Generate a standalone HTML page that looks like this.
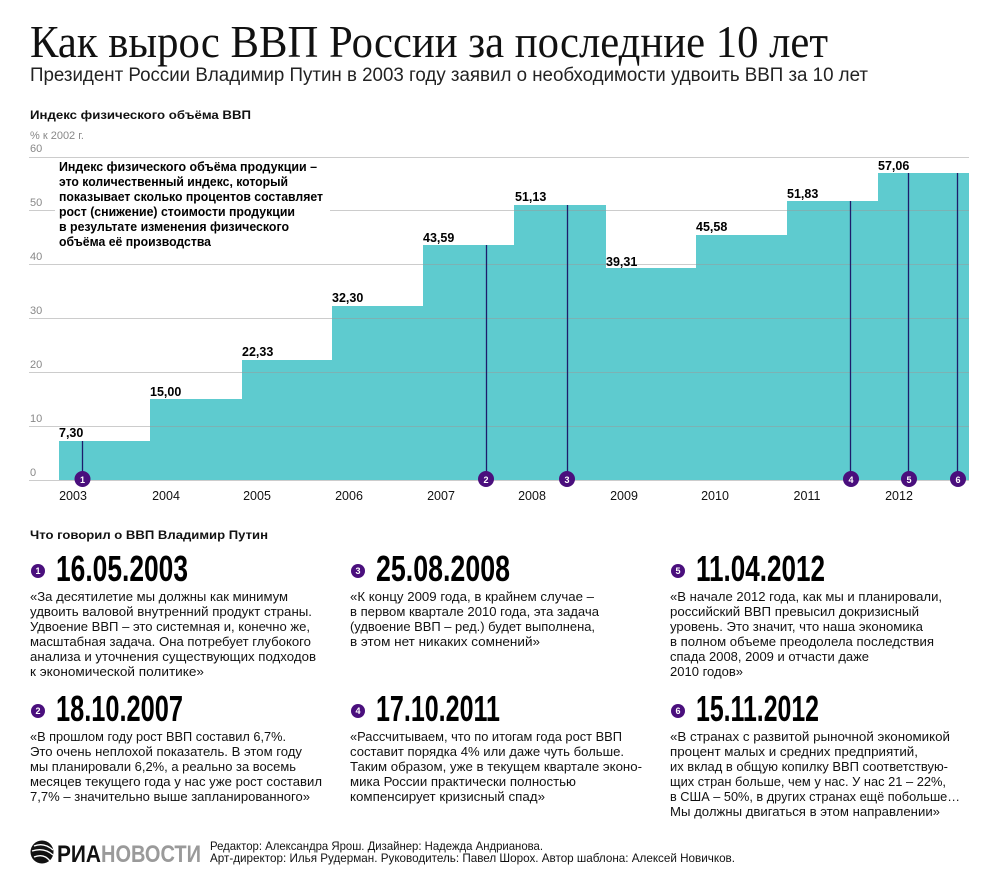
<!DOCTYPE html>
<html><head><meta charset="utf-8"><style>
html,body{margin:0;padding:0;background:#fff}
svg{display:block}
text{font-family:"Liberation Sans","DejaVu Sans",sans-serif}
.b{font-size:13px;fill:#111}
.d{font-family:"Liberation Sans Narrow","Liberation Sans",sans-serif;font-weight:bold;font-size:36px;fill:#000}
.n{font-weight:bold;font-size:12.5px;fill:#000}
.ax{font-size:11px;fill:#888}
.yr{font-size:12.5px;fill:#111;text-anchor:middle}
.cn{font-size:9px;font-weight:bold;fill:#fff;text-anchor:middle}
</style></head><body>
<svg width="998" height="890" viewBox="0 0 998 890" xmlns="http://www.w3.org/2000/svg">
<text x="30" y="57" style="font-family:'Liberation Serif',serif" font-size="46" fill="#111" textLength="798" lengthAdjust="spacingAndGlyphs">Как вырос ВВП России за последние 10 лет</text>
<text x="30" y="81" font-size="19" fill="#222" textLength="838" lengthAdjust="spacingAndGlyphs">Президент России Владимир Путин в 2003 году заявил о необходимости удвоить ВВП за 10 лет</text>
<text x="30" y="119" font-size="12" font-weight="bold" fill="#111" textLength="221" lengthAdjust="spacingAndGlyphs">Индекс физического объёма ВВП</text>
<text x="30" y="139" class="ax">% к 2002 г.</text>
<g class="ax">
<text x="30" y="152">60</text><text x="30" y="206">50</text><text x="30" y="260">40</text><text x="30" y="314">30</text><text x="30" y="368">20</text><text x="30" y="422">10</text><text x="30" y="476">0</text>
</g>
<g fill="#5ecbcf">
<rect x="59" y="441" width="92" height="39"/>
<rect x="150" y="399" width="93" height="81"/>
<rect x="242" y="360" width="91" height="120"/>
<rect x="332" y="306" width="92" height="174"/>
<rect x="423" y="245" width="92" height="235"/>
<rect x="514" y="205" width="92" height="275"/>
<rect x="605" y="268" width="92" height="212"/>
<rect x="696" y="235" width="92" height="245"/>
<rect x="787" y="201" width="92" height="279"/>
<rect x="878" y="173" width="91" height="307"/>
</g>
<g stroke="#999" stroke-opacity="0.5" stroke-width="1">
<line x1="29" x2="969" y1="157.5" y2="157.5"/>
<line x1="29" x2="55" y1="210.5" y2="210.5"/><line x1="330" x2="969" y1="210.5" y2="210.5"/>
<line x1="29" x2="969" y1="264.5" y2="264.5"/>
<line x1="29" x2="969" y1="318.5" y2="318.5"/>
<line x1="29" x2="969" y1="372.5" y2="372.5"/>
<line x1="29" x2="969" y1="426.5" y2="426.5"/>
<line x1="29" x2="969" y1="480.5" y2="480.5"/>
</g>
<g class="n" font-size="12" font-weight="bold">
<text x="59" y="171" textLength="258" lengthAdjust="spacingAndGlyphs">Индекс физического объёма продукции –</text>
<text x="59" y="186" textLength="229" lengthAdjust="spacingAndGlyphs">это количественный индекс, который</text>
<text x="59" y="201" textLength="264" lengthAdjust="spacingAndGlyphs">показывает сколько процентов составляет</text>
<text x="59" y="216" textLength="236" lengthAdjust="spacingAndGlyphs">рост (снижение) стоимости продукции</text>
<text x="59" y="231" textLength="230" lengthAdjust="spacingAndGlyphs">в результате изменения физического</text>
<text x="59" y="246" textLength="152" lengthAdjust="spacingAndGlyphs">объёма её производства</text>
</g>
<g class="n">
<text x="59" y="437">7,30</text><text x="150" y="396">15,00</text><text x="242" y="356">22,33</text><text x="332" y="302">32,30</text><text x="423" y="242">43,59</text><text x="515" y="201">51,13</text><text x="606" y="266">39,31</text><text x="696" y="231">45,58</text><text x="787" y="198">51,83</text><text x="878" y="170">57,06</text>
</g>
<g stroke="#1d1d6b" stroke-width="1.3">
<line x1="82.5" x2="82.5" y1="441" y2="480"/>
<line x1="486.5" x2="486.5" y1="245" y2="480"/>
<line x1="567.5" x2="567.5" y1="205" y2="480"/>
<line x1="850.5" x2="850.5" y1="201" y2="480"/>
<line x1="908.5" x2="908.5" y1="173" y2="480"/>
<line x1="957.5" x2="957.5" y1="173" y2="480"/>
</g>
<g fill="#4a0f7d">
<circle cx="82.5" cy="479" r="8"/><circle cx="486" cy="479" r="8"/><circle cx="567" cy="479" r="8"/><circle cx="851" cy="479" r="8"/><circle cx="909" cy="479" r="8"/><circle cx="958" cy="479" r="8"/>
</g>
<g class="cn"><text x="82.5" y="483">1</text><text x="486" y="483">2</text><text x="567" y="483">3</text><text x="851" y="483">4</text><text x="909" y="483">5</text><text x="958" y="483">6</text></g>
<g class="yr">
<text x="73" y="500">2003</text><text x="166" y="500">2004</text><text x="257" y="500">2005</text><text x="349" y="500">2006</text><text x="441" y="500">2007</text><text x="532" y="500">2008</text><text x="624" y="500">2009</text><text x="715" y="500">2010</text><text x="807" y="500">2011</text><text x="899" y="500">2012</text>
</g>
<text x="30" y="539" font-size="12" font-weight="bold" fill="#111" textLength="238" lengthAdjust="spacingAndGlyphs">Что говорил о ВВП Владимир Путин</text>
<g fill="#4a0f7d">
<circle cx="38" cy="571" r="7"/><circle cx="38" cy="711" r="7"/><circle cx="358" cy="571" r="7"/><circle cx="358" cy="711" r="7"/><circle cx="678" cy="571" r="7"/><circle cx="678" cy="711" r="7"/>
</g>
<g class="cn" font-size="8"><text x="38" y="574">1</text><text x="38" y="714">2</text><text x="358" y="574">3</text><text x="358" y="714">4</text><text x="678" y="574">5</text><text x="678" y="714">6</text></g>
<g class="d">
<text x="56" y="581" textLength="132" lengthAdjust="spacingAndGlyphs">16.05.2003</text>
<text x="56" y="721" textLength="127" lengthAdjust="spacingAndGlyphs">18.10.2007</text>
<text x="376" y="581" textLength="134" lengthAdjust="spacingAndGlyphs">25.08.2008</text>
<text x="376" y="721" textLength="124" lengthAdjust="spacingAndGlyphs">17.10.2011</text>
<text x="696" y="581" textLength="129" lengthAdjust="spacingAndGlyphs">11.04.2012</text>
<text x="696" y="721" textLength="123" lengthAdjust="spacingAndGlyphs">15.11.2012</text>
</g>
<g class="b">
<text x="30" y="601" textLength="258" lengthAdjust="spacingAndGlyphs">«За десятилетие мы должны как минимум</text>
<text x="30" y="616" textLength="282" lengthAdjust="spacingAndGlyphs">удвоить валовой внутренний продукт страны.</text>
<text x="30" y="631" textLength="280" lengthAdjust="spacingAndGlyphs">Удвоение ВВП – это системная и, конечно же,</text>
<text x="30" y="646" textLength="281" lengthAdjust="spacingAndGlyphs">масштабная задача. Она потребует глубокого</text>
<text x="30" y="661" textLength="286" lengthAdjust="spacingAndGlyphs">анализа и уточнения существующих подходов</text>
<text x="30" y="676" textLength="174" lengthAdjust="spacingAndGlyphs">к экономической политике»</text>

<text x="30" y="741" textLength="256" lengthAdjust="spacingAndGlyphs">«В прошлом году рост ВВП составил 6,7%.</text>
<text x="30" y="756" textLength="272" lengthAdjust="spacingAndGlyphs">Это очень неплохой показатель. В этом году</text>
<text x="30" y="771" textLength="266" lengthAdjust="spacingAndGlyphs">мы планировали 6,2%, а реально за восемь</text>
<text x="30" y="786" textLength="292" lengthAdjust="spacingAndGlyphs">месяцев текущего года у нас уже рост составил</text>
<text x="30" y="801" textLength="280" lengthAdjust="spacingAndGlyphs">7,7% – значительно выше запланированного»</text>

<text x="350" y="601" textLength="244" lengthAdjust="spacingAndGlyphs">«К концу 2009 года, в крайнем случае –</text>
<text x="350" y="616" textLength="249" lengthAdjust="spacingAndGlyphs">в первом квартале 2010 года, эта задача</text>
<text x="350" y="631" textLength="245" lengthAdjust="spacingAndGlyphs">(удвоение ВВП – ред.) будет выполнена,</text>
<text x="350" y="646" textLength="190" lengthAdjust="spacingAndGlyphs">в этом нет никаких сомнений»</text>

<text x="350" y="741" textLength="272" lengthAdjust="spacingAndGlyphs">«Рассчитываем, что по итогам года рост ВВП</text>
<text x="350" y="756" textLength="274" lengthAdjust="spacingAndGlyphs">составит порядка 4% или даже чуть больше.</text>
<text x="350" y="771" textLength="292" lengthAdjust="spacingAndGlyphs">Таким образом, уже в текущем квартале эконо-</text>
<text x="350" y="786" textLength="226" lengthAdjust="spacingAndGlyphs">мика России практически полностью</text>
<text x="350" y="801" textLength="195" lengthAdjust="spacingAndGlyphs">компенсирует кризисный спад»</text>

<text x="670" y="601" textLength="272" lengthAdjust="spacingAndGlyphs">«В начале 2012 года, как мы и планировали,</text>
<text x="670" y="616" textLength="249" lengthAdjust="spacingAndGlyphs">российский ВВП превысил докризисный</text>
<text x="670" y="631" textLength="253" lengthAdjust="spacingAndGlyphs">уровень. Это значит, что наша экономика</text>
<text x="670" y="646" textLength="264" lengthAdjust="spacingAndGlyphs">в полном объеме преодолела последствия</text>
<text x="670" y="661" textLength="199" lengthAdjust="spacingAndGlyphs">спада 2008, 2009 и отчасти даже</text>
<text x="670" y="676" textLength="73" lengthAdjust="spacingAndGlyphs">2010 годов»</text>

<text x="670" y="741" textLength="280" lengthAdjust="spacingAndGlyphs">«В странах с развитой рыночной экономикой</text>
<text x="670" y="756" textLength="248" lengthAdjust="spacingAndGlyphs">процент малых и средних предприятий,</text>
<text x="670" y="771" textLength="278" lengthAdjust="spacingAndGlyphs">их вклад в общую копилку ВВП соответствую-</text>
<text x="670" y="786" textLength="276" lengthAdjust="spacingAndGlyphs">щих стран больше, чем у нас. У нас 21 – 22%,</text>
<text x="670" y="801" textLength="290" lengthAdjust="spacingAndGlyphs">в США – 50%, в других странах ещё побольше…</text>
<text x="670" y="816" textLength="270" lengthAdjust="spacingAndGlyphs">Мы должны двигаться в этом направлении»</text>
</g>
<circle cx="42" cy="852" r="11.5" fill="#111"/>
<path d="M34 846 Q44 842 53 850 M32 851 Q44 847 53 855 M34 857 Q44 853 50 861" stroke="#fff" stroke-width="1.4" fill="none"/>
<text x="57" y="862" font-size="24" font-weight="bold" fill="#111" textLength="44" lengthAdjust="spacingAndGlyphs">РИА</text>
<text x="101" y="862" font-size="24" font-weight="bold" fill="#9a9a9a" textLength="100" lengthAdjust="spacingAndGlyphs">НОВОСТИ</text>
<text x="210" y="850" font-size="12" fill="#111" textLength="333" lengthAdjust="spacingAndGlyphs">Редактор: Александра Ярош. Дизайнер: Надежда Андрианова.</text>
<text x="210" y="862" font-size="12" fill="#111" textLength="525" lengthAdjust="spacingAndGlyphs">Арт-директор: Илья Рудерман. Руководитель: Павел Шорох. Автор шаблона: Алексей Новичков.</text>
</svg>
</body></html>
